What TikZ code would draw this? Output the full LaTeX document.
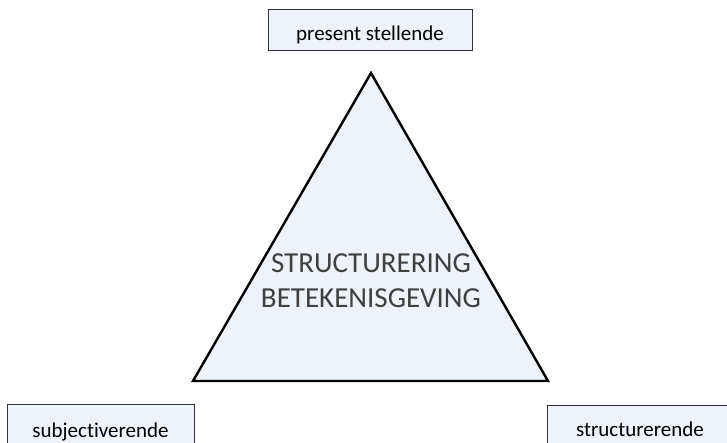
\documentclass[tikz,border=0pt]{standalone}
\usepackage{fontspec}
\setmainfont[Ligatures=NoCommon]{Carlito}
\definecolor{boxfill}{HTML}{EEF3FA}
\definecolor{bigtext}{HTML}{404040}
\definecolor{boxline}{HTML}{333333}
\begin{document}
\begin{tikzpicture}[x=1pt,y=-1pt,
  labelbox/.style={draw=boxline, line width=1pt, fill=boxfill, text=black,
    font=\fontsize{21}{24}\selectfont, inner xsep=0pt, inner ysep=0pt, align=center}]
\useasboundingbox (0,0) rectangle (727,443);
\clip (0,0) rectangle (727,443);
\coordinate (apex) at (371,73);
\coordinate (bl) at (193,381);
\coordinate (br) at (548,381);
\draw[line width=2.4pt, fill=boxfill, line join=miter] (apex) -- (bl) -- (br) -- cycle;
\node[text=bigtext, font=\fontsize{29}{35}\selectfont, align=center] (core) at (371,281)
  {STRUCTURERING\\BETEKENISGEVING};
\node[labelbox, minimum width=204pt, text height=31pt, text depth=10pt, anchor=north] (top) at (370,9) {present stellende};
\node[labelbox, minimum width=187pt, text height=33pt, text depth=20pt, anchor=north] (left) at (100.5,404) {subjectiverende};
\node[labelbox, minimum width=186pt, text height=31pt, text depth=20pt, anchor=north] (right) at (640,405) {structurerende};
\end{tikzpicture}
\end{document}
